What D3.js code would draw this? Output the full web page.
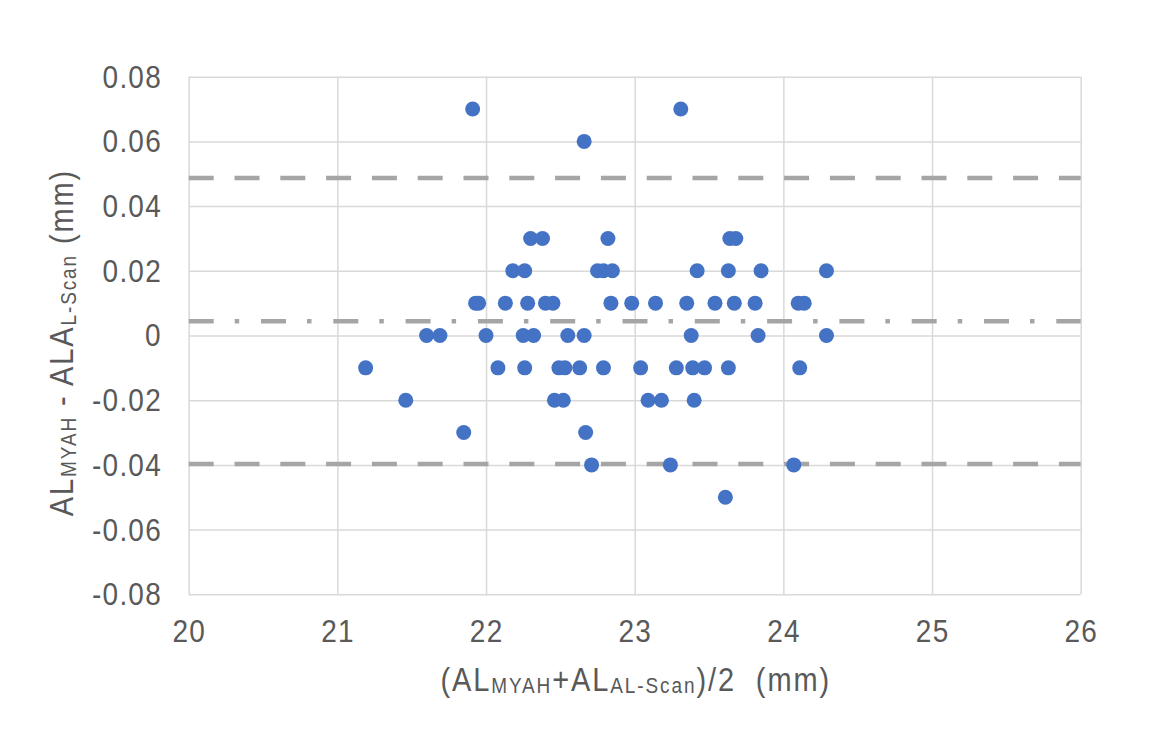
<!DOCTYPE html>
<html>
<head>
<meta charset="utf-8">
<script src="https://cdn.jsdelivr.net/npm/d3@7"></script>
<style>
  html, body { margin: 0; padding: 0; background: #fff; }
  svg { display: block; font-family: "Liberation Sans", Arial, sans-serif; }
  .grid line { stroke: #d9d9d9; stroke-width: 1.5; }
  .grid path { display: none; }
  .ticklabel { fill: #595959; font-size: 28px; letter-spacing: 1.2px; }
  .title { fill: #595959; font-size: 29px; letter-spacing: 1.9px; white-space: pre; }
</style>
</head>
<body>
<div id="chart"></div>
<script>
// Bland-Altman plot: mean of the two axial length readings (x) vs their difference (y)

// x = (AL_MYAH + AL_AL-Scan)/2, y = AL_MYAH - AL_AL-Scan
const avgAL = [
  21.91, 23.31,
  22.66,
  22.30, 22.38, 22.82, 23.64, 23.68,
  22.18, 22.26, 22.75, 22.79, 22.85, 23.42, 23.63, 23.85, 24.29,
  21.93, 21.95, 22.13, 22.28, 22.40, 22.45, 22.84, 22.98, 23.14, 23.35, 23.54, 23.67, 23.81, 24.10, 24.14,
  21.60, 21.69, 22.00, 22.25, 22.32, 22.55, 22.66, 23.38, 23.83, 24.29,
  21.19, 22.08, 22.26, 22.49, 22.53, 22.63, 22.79, 23.04, 23.28, 23.39, 23.47, 23.63, 24.11,
  21.46, 22.46, 22.52, 23.09, 23.18, 23.40,
  21.85, 22.67,
  22.71, 23.24, 24.07,
  23.61
];
const diffAL = [
  0.07, 0.07,
  0.06,
  0.03, 0.03, 0.03, 0.03, 0.03,
  0.02, 0.02, 0.02, 0.02, 0.02, 0.02, 0.02, 0.02, 0.02,
  0.01, 0.01, 0.01, 0.01, 0.01, 0.01, 0.01, 0.01, 0.01, 0.01, 0.01, 0.01, 0.01, 0.01, 0.01,
  0, 0, 0, 0, 0, 0, 0, 0, 0, 0,
  -0.01, -0.01, -0.01, -0.01, -0.01, -0.01, -0.01, -0.01, -0.01, -0.01, -0.01, -0.01, -0.01,
  -0.02, -0.02, -0.02, -0.02, -0.02, -0.02,
  -0.03, -0.03,
  -0.04, -0.04, -0.04,
  -0.05
];

// mean difference and limits of agreement
const meanDiff = 0.0044;
const limits = [0.0487, -0.0397];

const xTicks = [20, 21, 22, 23, 24, 25, 26];
const yTicks = [-0.08, -0.06, -0.04, -0.02, 0, 0.02, 0.04, 0.06, 0.08];
const yTickLabels = ["-0.08", "-0.06", "-0.04", "-0.02", "0", "0.02", "0.04", "0.06", "0.08"];

const WIDTH = 1172, HEIGHT = 729;
const margin = {top: 76.7, right: 91.3, bottom: 134.7, left: 188.7};
const innerW = WIDTH - margin.left - margin.right;
const innerH = HEIGHT - margin.top - margin.bottom;
const stretch = 1.12; // text in the original is a bit taller than wide

const svg = d3.select("#chart").append("svg")
  .attr("width", WIDTH)
  .attr("height", HEIGHT);

const g = svg.append("g").attr("transform", `translate(${margin.left},${margin.top})`);

const x = d3.scaleLinear().domain([20, 26]).range([0, innerW]);
const y = d3.scaleLinear().domain([-0.08, 0.08]).range([innerH, 0]);

// grid lines (axes without labels)
g.append("g")
  .attr("class", "grid")
  .attr("transform", `translate(0,${innerH})`)
  .call(d3.axisBottom(x).tickValues(xTicks).tickSize(-innerH).tickFormat(""));

g.append("g")
  .attr("class", "grid")
  .call(d3.axisLeft(y).tickValues(yTicks).tickSize(-innerW).tickFormat(""));

// tick labels
g.append("g").selectAll("text")
  .data(xTicks)
  .enter()
  .append("text")
    .attr("class", "ticklabel")
    .attr("text-anchor", "middle")
    .attr("transform", d => `translate(${x(d) + 0.6},${innerH + 47.4}) scale(1,${stretch})`)
    .text(d => d);

g.append("g").selectAll("text")
  .data(yTicks)
  .enter()
  .append("text")
    .attr("class", "ticklabel")
    .attr("text-anchor", "end")
    .attr("dy", "0.35em")
    .attr("transform", d => `translate(-26.8,${y(d)}) scale(1,${stretch})`)
    .text((d, i) => yTickLabels[i]);

// limits of agreement (dashed) and mean difference (dash-dot)
g.selectAll(".loa")
  .data(limits)
  .enter()
  .append("line")
    .attr("class", "loa")
    .attr("x1", 0).attr("x2", innerW)
    .attr("y1", d => y(d)).attr("y2", d => y(d))
    .attr("stroke", "#a5a5a5")
    .attr("stroke-width", 4.5)
    .attr("stroke-dasharray", "25,20.8");

g.append("line")
  .attr("x1", 0).attr("x2", innerW)
  .attr("y1", y(meanDiff)).attr("y2", y(meanDiff))
  .attr("stroke", "#a5a5a5")
  .attr("stroke-width", 4.5)
  .attr("stroke-dasharray", "25,21,4.5,21.8");

// points
g.append("g")
  .selectAll("circle")
  .data(avgAL.map((v, i) => [v, diffAL[i]]))
  .enter()
  .append("circle")
    .attr("cx", d => x(d[0]))
    .attr("cy", d => y(d[1]))
    .attr("r", 7.5)
    .attr("fill", "#4472c4");

// x title
const xt = svg.append("text")
  .attr("class", "title")
  .attr("text-anchor", "middle")
  .attr("transform", `translate(${margin.left + innerW / 2 + 1},691) scale(1,${stretch})`);
xt.append("tspan").text("(AL");
xt.append("tspan").attr("font-size", 19).attr("dy", 2).text("MYAH");
xt.append("tspan").attr("dy", -2).text("+AL");
xt.append("tspan").attr("font-size", 19).attr("dy", 2).text("AL-Scan");
xt.append("tspan").attr("dy", -2).text(")/2  (mm)");

// y title
const yt = svg.append("text")
  .attr("class", "title")
  .attr("text-anchor", "middle")
  .attr("transform", `translate(73,${margin.top + innerH / 2 + 7}) rotate(-90) scale(1,${stretch})`);
yt.append("tspan").text("AL");
yt.append("tspan").attr("font-size", 19).attr("dy", 3).text("MYAH");
yt.append("tspan").attr("dy", -3).text(" - ALA");
yt.append("tspan").attr("font-size", 19).attr("dy", 3).text("L-Scan");
yt.append("tspan").attr("dy", -3).text(" (mm)");
</script>
</body>
</html>
